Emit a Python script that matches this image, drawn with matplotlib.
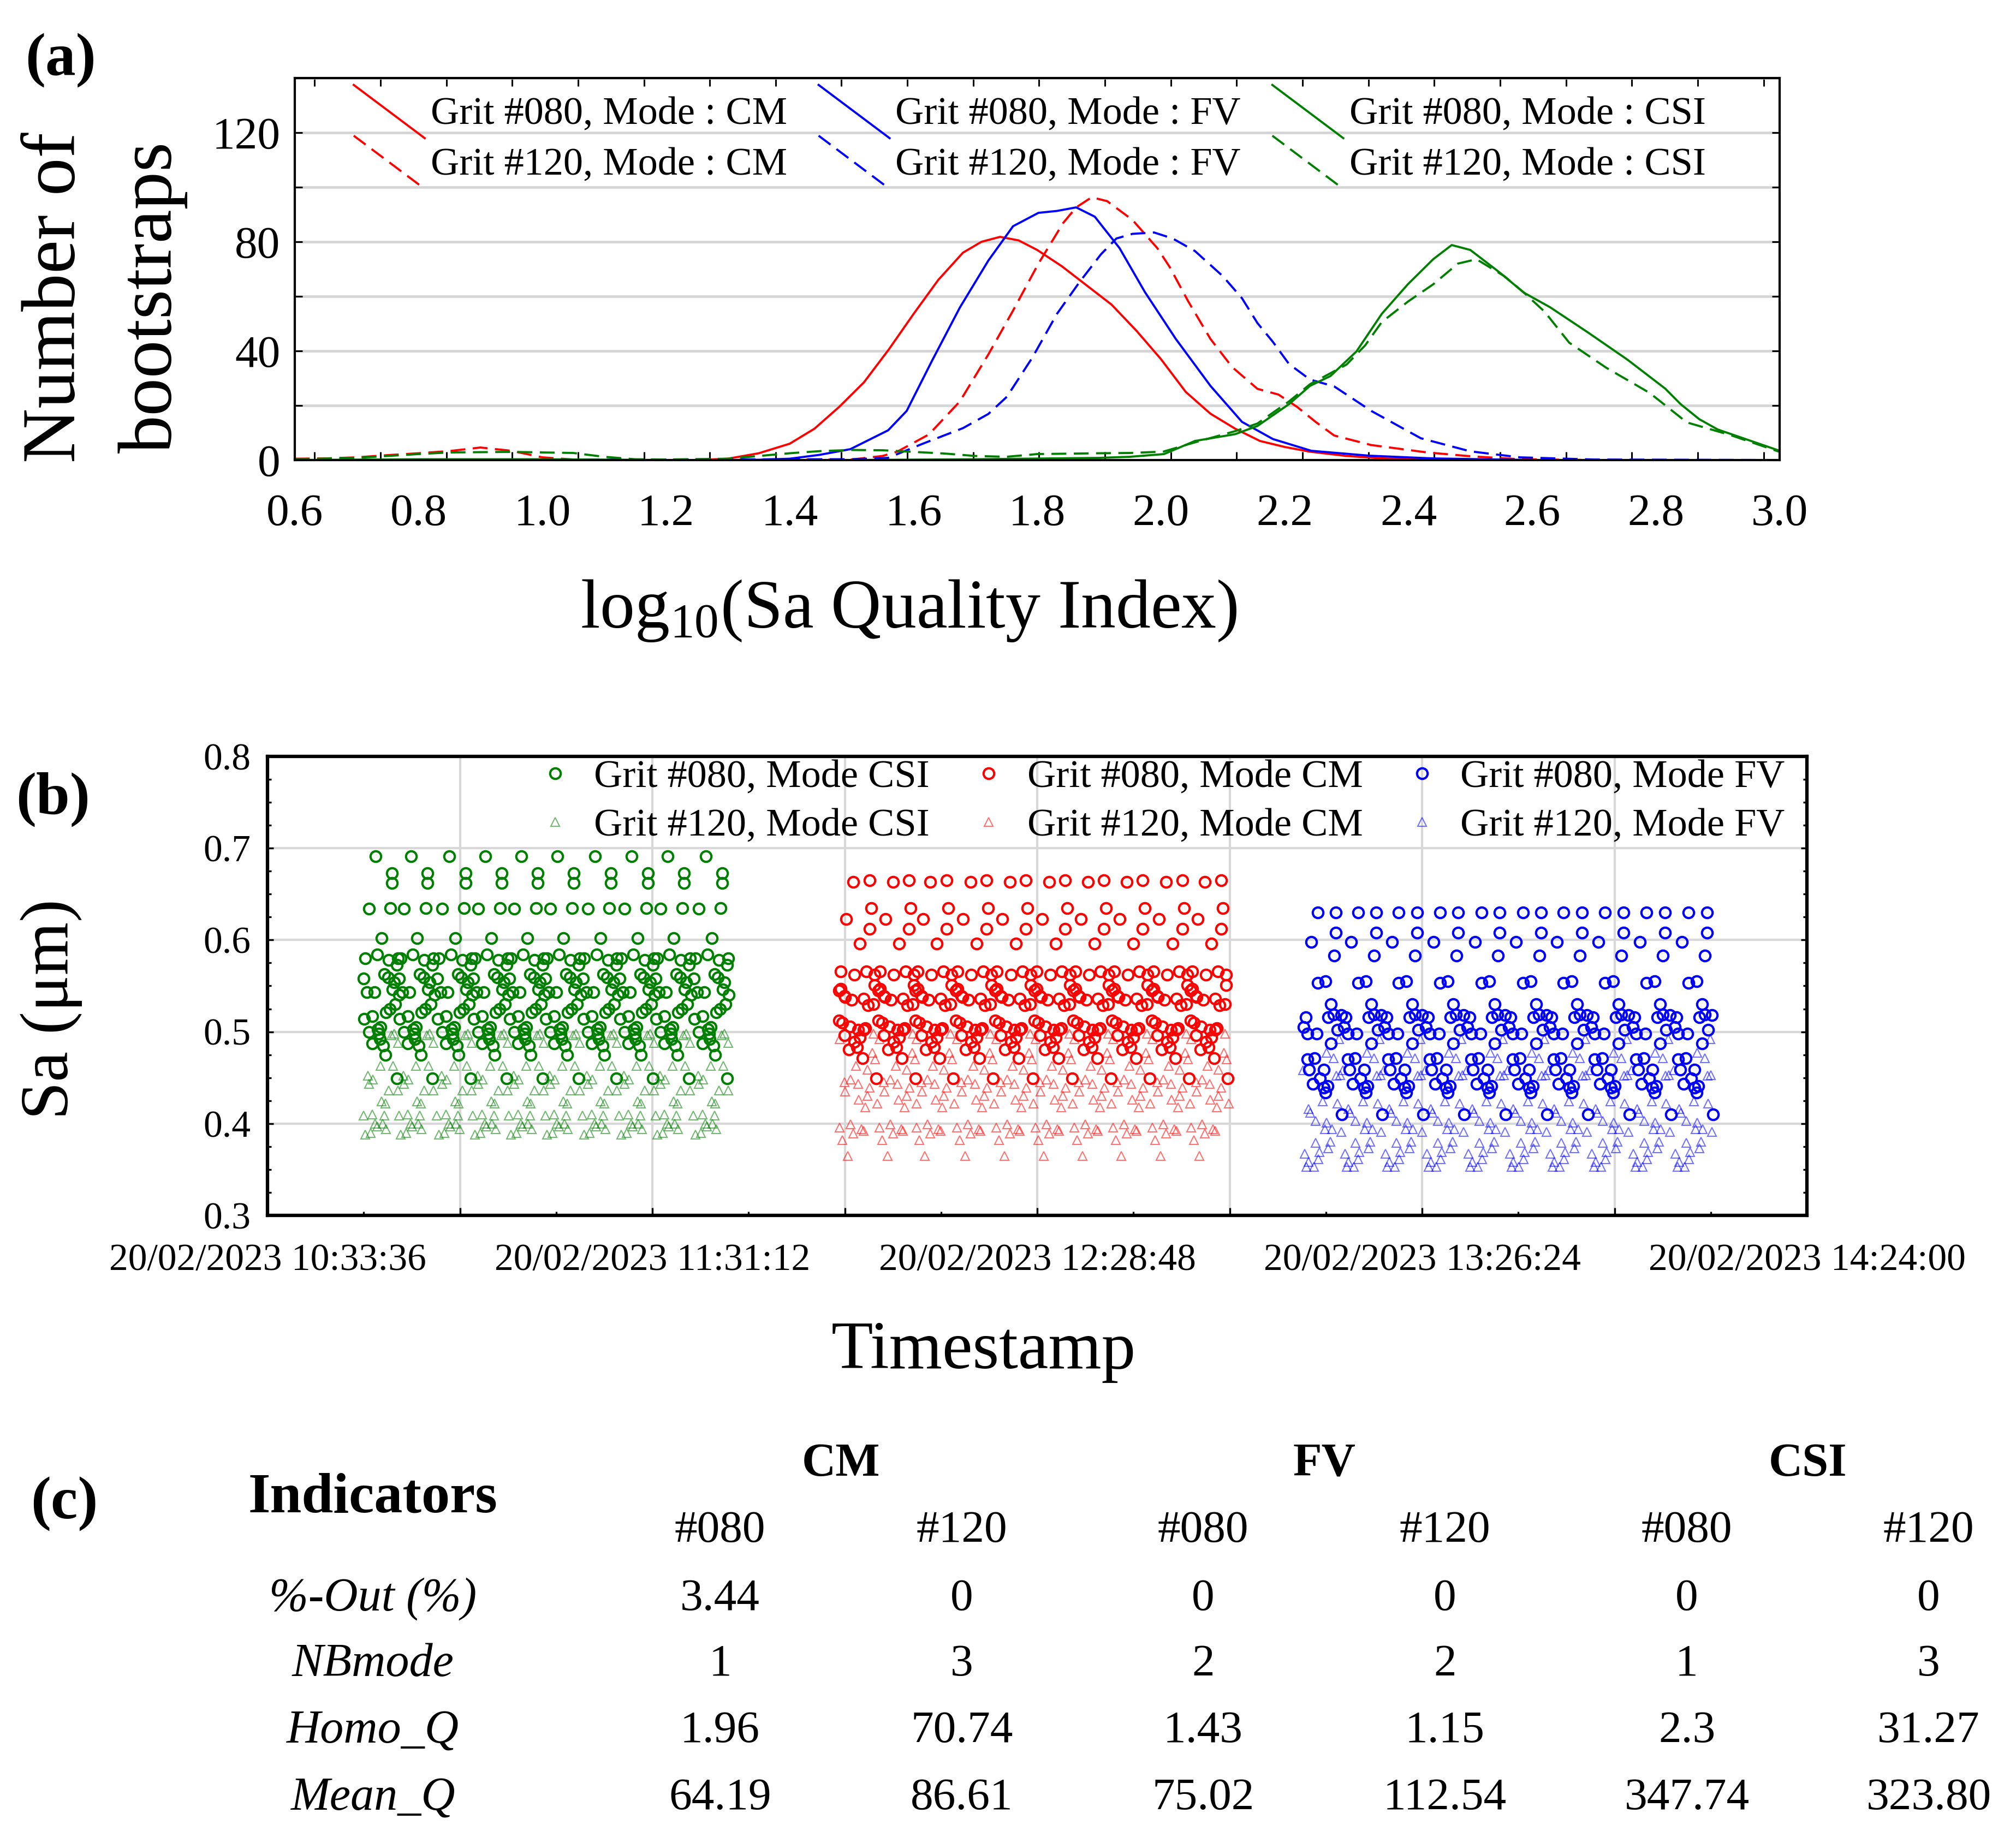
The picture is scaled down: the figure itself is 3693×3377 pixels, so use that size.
import numpy as np
import pandas as pd
import matplotlib
matplotlib.use("Agg")
import matplotlib.pyplot as plt
from matplotlib.lines import Line2D
from matplotlib.legend_handler import HandlerLine2D
from matplotlib.ticker import FixedLocator, FixedFormatter
import matplotlib.dates as mdates

plt.rcParams['font.family'] = ['Liberation Serif', 'DejaVu Serif']
plt.rcParams['mathtext.fontset'] = 'custom'
plt.rcParams['mathtext.rm'] = 'Liberation Serif'
plt.rcParams['mathtext.it'] = 'Liberation Serif:italic'
plt.rcParams['mathtext.bf'] = 'Liberation Serif:bold'

# ---------------- (a) bootstrap distributions ----------------
cm080_x = [0.60, 1.00, 1.25, 1.30, 1.35, 1.40, 1.44, 1.48, 1.52, 1.56, 1.60, 1.64, 1.68, 1.71, 1.74,
           1.77, 1.80, 1.84, 1.88, 1.92, 1.96, 2.00, 2.04, 2.08, 2.12, 2.16, 2.20, 2.24, 2.30, 2.36, 2.45, 2.60, 3.00]
cm080_y = [0, 0, 0, 0.5, 2.5, 6, 11.5, 19.5, 28.5, 40.5, 53.5, 66, 76, 80, 81.8,
           80.5, 77, 71, 64, 57, 47.5, 37, 25, 17, 11.5, 7, 4.8, 3.1, 1.5, 0.6, 0.1, 0, 0]

cm120_x = [0.60, 0.65, 0.70, 0.75, 0.80, 0.85, 0.90, 0.95, 1.00, 1.05, 1.10, 1.50, 1.55, 1.574, 1.625, 1.675,
           1.721, 1.761, 1.802, 1.842, 1.863, 1.888, 1.913, 1.954, 1.994, 2.014, 2.044, 2.080, 2.115, 2.156,
           2.19, 2.22, 2.25, 2.28, 2.34, 2.43, 2.50, 2.58, 2.70, 3.00]
cm120_y = [0.5, 0.6, 1.0, 1.8, 2.5, 3.3, 4.6, 3.4, 1.0, 0.2, 0, 0.2, 1.5, 3.1, 9.4, 21.5,
           38.7, 54.8, 72, 86.9, 92.6, 96.3, 94.9, 88, 77.7, 70.8, 58.2, 44.4, 34.1, 26.1,
           24, 19.5, 14, 9, 5.5, 2.8, 1.4, 0.3, 0, 0]

fv080_x = [0.60, 1.30, 1.35, 1.40, 1.448, 1.498, 1.559, 1.589, 1.630, 1.675, 1.721, 1.761, 1.802, 1.832,
           1.863, 1.893, 1.933, 1.974, 2.024, 2.080, 2.131, 2.181, 2.243, 2.337, 2.44, 2.60, 3.00]
fv080_y = [0, 0, 0.1, 0.5, 1.9, 4.0, 10.9, 18, 36.4, 55.9, 73.1, 85.7, 90.6, 91.3,
           92.6, 89.2, 77.7, 61.6, 44.4, 27.2, 14.0, 7.7, 3.4, 1.6, 0.6, 0, 0]

fv120_x = [0.60, 1.45, 1.50, 1.559, 1.614, 1.680, 1.721, 1.751, 1.792, 1.832, 1.868, 1.903, 1.928, 1.954,
           1.989, 2.019, 2.055, 2.100, 2.131, 2.156, 2.181, 2.207, 2.241, 2.28, 2.34, 2.42, 2.50, 2.58, 2.70, 3.00]
fv120_y = [0, 0.3, 0.3, 0.8, 5.9, 11.7, 16.9, 23.2, 37.5, 53.6, 65.1, 75.4, 81.2, 82.9,
           83.4, 81.2, 76.6, 67.4, 59.3, 50.2, 43.3, 35.2, 29.5, 27, 18, 8, 3.2, 1.0, 0.2, 0]

csi080_x = [0.60, 0.80, 1.00, 1.20, 1.50, 1.70, 1.90, 1.95, 2.005, 2.055, 2.12, 2.156, 2.207, 2.241, 2.274,
            2.316, 2.357, 2.399, 2.44, 2.47, 2.50, 2.546, 2.587, 2.629, 2.69, 2.754, 2.815, 2.84, 2.87,
            2.90, 2.95, 3.00]
csi080_y = [0, 0.3, 0.3, 0, 0, 0.3, 0.8, 1.2, 2.2, 7.0, 9.5, 12.5, 20.5, 27.2, 30.8,
            39.8, 53.6, 64.4, 73.6, 78.8, 77, 69, 61.3, 56, 46.8, 36.8, 26.2, 20.5, 15.0,
            11.2, 7.3, 3.4]

csi120_x = [0.60, 0.70, 0.80, 0.85, 0.90, 0.95, 1.00, 1.05, 1.10, 1.15, 1.20, 1.30, 1.35, 1.40, 1.45, 1.50,
            1.55, 1.60, 1.65, 1.70, 1.75, 1.80, 1.90, 1.95, 2.004, 2.055, 2.12, 2.156, 2.207, 2.241, 2.30,
            2.33, 2.357, 2.40, 2.44, 2.48, 2.51, 2.555, 2.587, 2.62, 2.66, 2.72, 2.79, 2.85, 2.92, 3.00]
csi120_y = [0.3, 0.8, 2.2, 2.8, 2.9, 3.0, 2.8, 2.6, 1.2, 0.3, 0.2, 0.5, 1.5, 2.5, 3.3, 3.7,
            3.6, 3.0, 2.4, 1.5, 1.2, 2.2, 2.5, 2.6, 3.1, 6.5, 10.6, 13.4, 21.5, 27.8, 35,
            42, 50.6, 58.2, 64.4, 72, 73.6, 67.4, 61.3, 54.4, 43, 33.8, 24.6, 13.8, 9.2, 3]

# ---------------- (b) Sa time series ----------------
# cycle start (minutes after 10:33:36) and, per cycle, offset (min) / Sa (um)
csi_cycle_start = [16.2, 21.5, 27.2, 32.6, 38.0, 43.4, 49.0, 54.5, 59.9, 65.6]
cm_cycle_start = [87.7, 93.6, 99.2, 105.2, 111.1, 117.0, 122.8, 128.6, 134.5, 140.3]
fv_cycle_start = [157.2, 163.2, 169.3, 175.5, 181.7, 187.9, 194.0, 200.2, 206.4, 212.7]

csi080_dt = [-1.80, -1.72, -1.58, -1.31, -1.04, -1.04, -0.49, -0.49, -0.22, 0.00, 0.25, 0.33, 0.46, 0.60,
             0.74, 0.87, 1.15, 1.28, 1.42, 1.55, 1.83, 1.96, 2.10, 2.18, 2.43, 2.43, 2.51, 2.78, 2.92,
             3.19, 3.19, 3.33, 3.46]
csi080_sa = [0.558, 0.514, 0.580, 0.543, 0.634, 0.500, 0.517, 0.487, 0.543, 0.691, 0.584, 0.503, 0.498, 0.492,
             0.505, 0.602, 0.485, 0.563, 0.475, 0.521, 0.559, 0.578, 0.525, 0.635, 0.673, 0.662, 0.546, 0.554, 0.530,
             0.573, 0.449, 0.580, 0.540]
csi120_dt = [-1.85, -1.58, -1.17, -1.04, -0.76, -0.49, -0.41, -0.08, 0.19, 0.74, 0.87, 1.01, 1.28, 1.42,
             1.55, 1.96, 2.37, 2.59, 2.78, 3.33, 3.33]
csi120_sa = [0.409, 0.388, 0.452, 0.443, 0.390, 0.410, 0.448, 0.400, 0.397, 0.463, 0.424, 0.400, 0.409, 0.422,
             0.394, 0.436, 0.496, 0.463, 0.498, 0.436, 0.488]

cm080_dt = [-2.18, -2.18, -1.91, -1.91, -1.64, -1.36, -1.36, -1.23, -1.09, -0.68, -0.55, -0.27, 0.00, 0.14,
            0.14, 0.55, 0.68, 0.95, 0.95, 1.36, 1.50, 1.50, 1.77, 1.91, 2.18, 2.40, 2.40, 2.67, 3.00, 3.14,
            3.14, 3.41]
cm080_sa = [0.545, 0.512, 0.566, 0.547, 0.510, 0.539, 0.496, 0.538, 0.623, 0.481, 0.506, 0.535, 0.663, 0.562,
            0.489, 0.483, 0.502, 0.596, 0.494, 0.471, 0.536, 0.502, 0.504, 0.566, 0.529, 0.665, 0.612, 0.635,
            0.530, 0.562, 0.551, 0.449]
cm120_dt = [-2.05, -2.05, -1.64, -1.36, -1.28, -0.82, -0.41, -0.41, 0.00, 0.41, 0.68, 0.82, 1.23, 1.50,
            1.77, 2.05, 2.05, 2.45, 2.86, 3.00, 3.27, 3.55]
cm120_sa = [0.492, 0.396, 0.382, 0.445, 0.435, 0.365, 0.448, 0.399, 0.389, 0.463, 0.443, 0.426, 0.394, 0.392,
            0.418, 0.430, 0.459, 0.439, 0.477, 0.498, 0.470, 0.422]

fv080_dt = [-2.10, -1.83, -1.55, -1.55, -1.28, -1.01, -0.74, -0.46, -0.19, 0.00, 0.00, 0.35, 0.90, 0.90,
            1.17, 1.17, 1.45, 1.58, 1.99, 1.99, 2.40, 2.45, 2.73, 2.73, 2.95, 3.49, 3.63]
fv080_sa = [0.505, 0.516, 0.498, 0.470, 0.459, 0.598, 0.443, 0.471, 0.498, 0.630, 0.553, 0.449, 0.459, 0.439,
            0.555, 0.434, 0.441, 0.516, 0.530, 0.487, 0.519, 0.583, 0.630, 0.608, 0.502, 0.518, 0.410]
fv120_dt = [-2.24, -1.96, -1.69, -1.42, -1.42, -1.15, -0.60, -0.33, -0.33, 0.08, 0.22, 0.76, 1.04, 1.31,
            1.31, 1.58, 1.85, 2.13, 2.40, 2.81, 2.95, 3.22, 3.35, 3.49]
fv120_sa = [0.458, 0.367, 0.353, 0.416, 0.358, 0.412, 0.353, 0.403, 0.379, 0.361, 0.369, 0.424, 0.394, 0.477,
            0.401, 0.373, 0.380, 0.394, 0.471, 0.452, 0.422, 0.492, 0.453, 0.391]

# ---------------- (c) table ----------------
modes = ["CM", "FV", "CSI"]
grits = ["#080", "#120"]
indicators = ["%-Out (%)", "NBmode", "Homo_Q", "Mean_Q"]
table_vals = [["3.44", "0", "0", "0", "0", "0"],
              ["1", "3", "2", "2", "1", "3"],
              ["1.96", "70.74", "1.43", "1.15", "2.3", "31.27"],
              ["64.19", "86.61", "75.02", "112.54", "347.74", "323.80"]]

W, H = 3693, 3377
fig = plt.figure(figsize=(W / 100, H / 100), dpi=100)


def fx(px):
    return px / W


def fy(py):
    return 1 - py / H


class DiagHandler(HandlerLine2D):
    # legend key drawn as a diagonal segment like the original
    def create_artists(self, legend, orig_handle, xdescent, ydescent, width, height, fontsize, trans):
        line = Line2D([-xdescent, -xdescent + width], [height + 0.3 * fontsize, -0.35 * fontsize])
        self.update_prop(line, orig_handle, legend)
        line.set_marker('')
        line.set_transform(trans)
        return [line]


# ===== panel (a) =====
ax1 = fig.add_axes([fx(540), fy(843), (3260 - 540) / W, (843 - 143) / H])
dash = (0, (7, 3.5))
curves = [(cm080_x, cm080_y, 'red', '-', 'Grit #080, Mode : CM'),
          (cm120_x, cm120_y, 'red', dash, 'Grit #120, Mode : CM'),
          (fv080_x, fv080_y, 'blue', '-', 'Grit #080, Mode : FV'),
          (fv120_x, fv120_y, 'blue', dash, 'Grit #120, Mode : FV'),
          (csi080_x, csi080_y, 'green', '-', 'Grit #080, Mode : CSI'),
          (csi120_x, csi120_y, 'green', dash, 'Grit #120, Mode : CSI')]
for x, y, c, ls, lab in curves:
    ax1.plot(x, y, color=c, linestyle=ls, lw=2.8, label=lab)

ax1.set_xlim(0.6, 3.0)
ax1.set_ylim(0, 140)
ax1.set_xticks(np.round(np.arange(0.6, 3.01, 0.2), 1))
ax1.set_xticklabels(["%.1f" % v for v in np.arange(0.6, 3.01, 0.2)])
ax1.set_xticks(np.linspace(0.632, 2.974, 23), minor=True)
ax1.tick_params(axis='x', which='major', length=0, pad=44, labelsize=60)
ax1.tick_params(axis='x', which='minor', direction='in', top=True, bottom=True, length=11, width=2.2)
ax1.set_yticks([0, 40, 80, 120])
ax1.set_yticks([20, 60, 100, 140], minor=True)
ax1.tick_params(axis='y', which='both', direction='in', left=True, right=True, length=10, width=2.2)
ax1.tick_params(axis='y', which='major', labelsize=60, pad=19)
ax1.yaxis.grid(True, which='both', color='#d4d4d4', lw=3.3)
ax1.set_axisbelow(True)
for s in ax1.spines.values():
    s.set_linewidth(3)
ax1.legend(ncol=3, loc='upper left', bbox_to_anchor=(0.0397, 0.951), frameon=False, fontsize=52,
           handlelength=1.8, handletextpad=0.15, columnspacing=0.8, labelspacing=0.38,
           borderpad=0, borderaxespad=0, handler_map={Line2D: DiagHandler()})

# ===== panel (b) =====
ax2 = fig.add_axes([fx(490), fy(2227), (3310 - 490) / W, (2227 - 1386) / H])
t0 = pd.Timestamp('2023-02-20 10:33:36')


def series(starts, dt, sa):
    mins = np.add.outer(np.array(starts), np.array(dt)).ravel()
    times = (t0 + pd.to_timedelta(mins, unit='min')).to_numpy()
    return times, np.tile(sa, len(starts))


tri = dict(marker='^', linestyle='none', mfc='none', ms=11, mew=1.5, alpha=0.55)
circ = dict(marker='o', linestyle='none', mfc='none', ms=14, mew=3.0)
h_g120, = ax2.plot(*series(csi_cycle_start, csi120_dt, csi120_sa), color='#008000', label='Grit #120, Mode CSI', **tri)
h_r120, = ax2.plot(*series(cm_cycle_start, cm120_dt, cm120_sa), color='#ff0000', label='Grit #120, Mode CM', **tri)
h_b120, = ax2.plot(*series(fv_cycle_start, fv120_dt, fv120_sa), color='#0000ff', label='Grit #120, Mode FV', **tri)
h_g080, = ax2.plot(*series(csi_cycle_start, csi080_dt, csi080_sa), color='#008000', label='Grit #080, Mode CSI', **circ)
h_r080, = ax2.plot(*series(cm_cycle_start, cm080_dt, cm080_sa), color='#ff0000', label='Grit #080, Mode CM', **circ)
h_b080, = ax2.plot(*series(fv_cycle_start, fv080_dt, fv080_sa), color='#0000ff', label='Grit #080, Mode FV', **circ)

major_t = [t0 + pd.Timedelta(minutes=28.8 * k) for k in range(9)]
minor_t = [t0 + pd.Timedelta(minutes=14.4 * k) for k in range(17)]
major_n = mdates.date2num([t.to_pydatetime() for t in major_t])
minor_n = mdates.date2num([t.to_pydatetime() for t in minor_t])
ax2.set_xlim(major_n[0], major_n[-1])
ax2.xaxis.set_major_locator(FixedLocator(major_n))
ax2.xaxis.set_major_formatter(FixedFormatter(
    [t.strftime('%d/%m/%Y %H:%M:%S') if k % 2 == 0 else '' for k, t in enumerate(major_t)]))
ax2.xaxis.set_minor_locator(FixedLocator(minor_n))
ax2.tick_params(axis='x', which='major', direction='in', length=10, width=2.4, labelsize=50, pad=37)
ax2.tick_params(axis='x', which='minor', direction='in', length=5, width=2.4)
ax2.set_ylim(0.3, 0.8)
ax2.set_yticks(np.round(np.arange(0.3, 0.81, 0.1), 1))
ax2.set_yticks(np.round(np.arange(0.3, 0.8, 0.025), 3), minor=True)
ax2.yaxis.set_major_formatter(FixedFormatter(["%.1f" % v for v in np.arange(0.3, 0.81, 0.1)]))
ax2.tick_params(axis='y', which='both', direction='in', left=True, right=True, width=2.4)
ax2.tick_params(axis='y', which='major', length=8, labelsize=50, pad=22)
ax2.tick_params(axis='y', which='minor', length=5)
ax2.grid(True, which='major', color='#d8d8d8', lw=3)
ax2.set_axisbelow(True)
for s in ax2.spines.values():
    s.set_linewidth(4.5)
ax2.legend(handles=[h_g080, h_g120, h_r080, h_r120, h_b080, h_b120], ncol=3, loc='upper left',
           bbox_to_anchor=(0.1741, 0.993), frameon=False, fontsize=52, handlelength=1.0,
           handletextpad=0.48, columnspacing=1.0, labelspacing=0.32, borderpad=0, borderaxespad=0,
           numpoints=1)

# ===== axis titles & panel letters =====
fig.text(fx(104), fy(545), 'Number of', rotation=90, fontsize=100, ha='center', va='center')
fig.text(fx(280), fy(545), 'bootstraps', rotation=90, fontsize=100, ha='center', va='center')
fig.text(fx(1665), fy(1119), 'log$_{10}$(Sa Quality Index)', fontsize=92, ha='center', va='center')
fig.text(fx(94), fy(1849), 'Sa (μm)', rotation=90, fontsize=90, ha='center', va='center')
fig.text(fx(1802), fy(2477), 'Timestamp', fontsize=90, ha='center', va='center')
fig.text(fx(111), fy(111), '(a)', fontsize=80, fontweight='bold', ha='center', va='center')
fig.text(fx(97), fy(1465), '(b)', fontsize=80, fontweight='bold', ha='center', va='center')
fig.text(fx(118), fy(2756), '(c)', fontsize=80, fontweight='bold', ha='center', va='center')

# ===== panel (c) table =====
col_x = [1319, 1762, 2204, 2647, 3090, 3533]
row_y = [2930, 3050, 3172, 3295]
fig.text(fx(683), fy(2745), 'Indicators', fontsize=75, fontweight='bold', ha='center', va='center')
for i, m in enumerate(modes):
    cx = (col_x[2 * i] + col_x[2 * i + 1]) / 2
    fig.text(fx(cx), fy(2683), m, fontsize=62, fontweight='bold', ha='center', va='center')
for j, cx in enumerate(col_x):
    fig.text(fx(cx), fy(2805), grits[j % 2], fontsize=60, ha='center', va='center')
for r, name in enumerate(indicators):
    fig.text(fx(683), fy(row_y[r]), name, fontsize=62, style='italic', ha='center', va='center')
    for j, cx in enumerate(col_x):
        fig.text(fx(cx), fy(row_y[r]), table_vals[r][j], fontsize=60, ha='center', va='center')

fig.savefig('out.png', dpi=100, facecolor='white')
